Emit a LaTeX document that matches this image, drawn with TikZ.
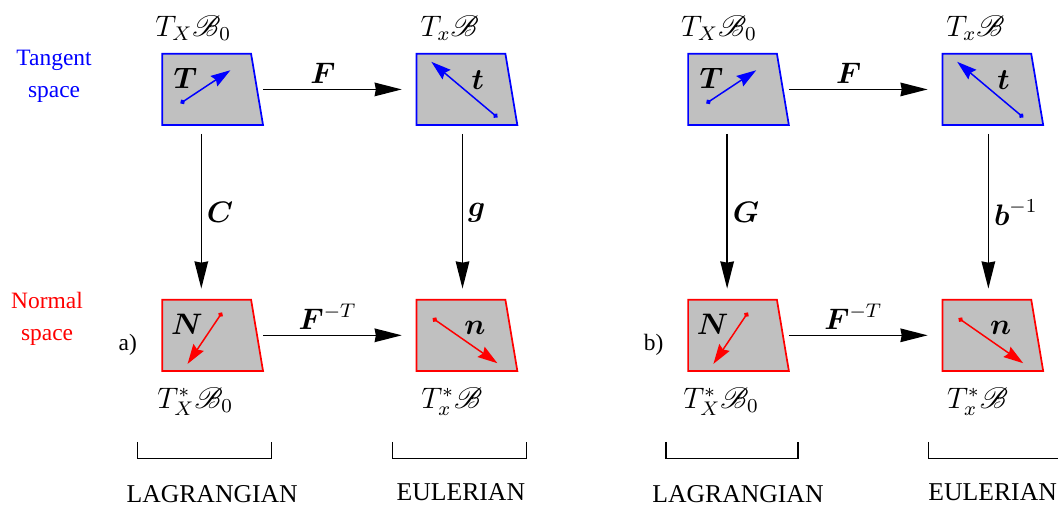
\documentclass[tikz,border=0pt]{standalone}
\usepackage{amsmath}
\usepackage{mathrsfs}
\usepackage[no-math]{fontspec}
\setmainfont{Liberation Serif}
\usetikzlibrary{positioning,arrows.meta}
\definecolor{boxgrey}{HTML}{C0C0C0}
\definecolor{tanblue}{HTML}{0000FF}
\definecolor{norred} {HTML}{FF0000}
\newcommand{\vb}[1]{\boldsymbol{#1}}
% grey quadrilateral over a named (invisible) box, right side slanting out
\newcommand{\trap}[2]{\draw[#2, fill=boxgrey, line width=0.7pt]
  (#1.north west) -- (#1.north east) -- ([xshift=0.17cm]#1.south east)
  -- (#1.south west) -- cycle;}
\tikzset{
  box/.style  ={minimum width=1.25cm, minimum height=1.0cm, inner sep=0pt,
                anchor=south west},
  vect/.style ={arrows={Circle[length=2pt]-Stealth[length=8pt,width=5pt,inset=1pt]},
                draw=tanblue, fill=tanblue, line width=0.6pt},
  vecn/.style ={arrows={Circle[length=2pt]-Stealth[length=8pt,width=5pt,inset=1pt]},
                draw=norred, fill=norred, line width=0.6pt},
  ar/.style   ={-{Stealth[length=11pt,width=5.5pt,inset=0.5pt]}, line width=0.6pt},
  brk/.style  ={line width=0.5pt},
  mlab/.style ={font=\large, inner sep=2pt},
  side/.style ={font=\rmfamily\fontsize{9.5}{13}\selectfont, align=center},
  captext/.style={font=\rmfamily\fontsize{10.4}{12}\selectfont}
}

\begin{document}
\begin{tikzpicture}
\useasboundingbox (0,0) rectangle (15.06,7.27);
\node[side, text=tanblue] (tang) at (0.77,6.18) {Tangent\\ space};
\node[side, text=norred]  (norm) at (0.67,2.73) {Normal\\ space};

\foreach \s/\dx/\mv/\mh in {a/0/\vb{C}/\vb{g}, b/7.485/\vb{G}/\vb{b}^{-1}}{
\begin{scope}[xshift=\dx cm]
  % the four spaces
  \node[box] (T\s) at (2.31,5.49) {};
  \node[box] (t\s) at (5.93,5.49) {};
  \node[box] (N\s) at (2.31,1.99) {};
  \node[box] (n\s) at (5.93,1.99) {};
  \trap{T\s}{tanblue} \trap{t\s}{tanblue}
  \trap{N\s}{norred}  \trap{n\s}{norred}
  \node[mlab] (TX\s) at (2.75,6.87) {$T_X\mathscr{B}_0$};
  \node[mlab] (Tx\s) at (6.40,6.87) {$T_x\mathscr{B}$};
  \node[mlab] (NX\s) at (2.78,1.55) {$T^*_X\mathscr{B}_0$};
  \node[mlab] (Nx\s) at (6.43,1.55) {$T^*_x\mathscr{B}$};
  \node[side] (lbl\s) at (1.82,2.36) {\s)};
  % vectors inside the boxes
  \node[mlab] at ([shift={(0.33,0.67)}]T\s.south west) {$\vb{T}$};
  \node[mlab] at ([shift={(0.87,0.64)}]t\s.south west) {$\vb{t}$};
  \node[mlab] at ([shift={(0.35,0.66)}]N\s.south west) {$\vb{N}$};
  \node[mlab] at ([shift={(0.83,0.61)}]n\s.south west) {$\vb{n}$};
  \draw[vect] ([shift={(0.26,0.31)}]T\s.south west)
           -- ([shift={(0.97,0.78)}]T\s.south west);
  \draw[vect] ([shift={(1.15,0.11)}]t\s.south west)
           -- ([shift={(0.21,0.90)}]t\s.south west);
  \draw[vecn] ([shift={(0.85,0.83)}]N\s.south west)
           -- ([shift={(0.36,0.10)}]N\s.south west);
  \draw[vecn] ([shift={(0.23,0.75)}]n\s.south west)
           -- ([shift={(1.15,0.11)}]n\s.south west);
  % maps
  \draw[ar, shorten >=6pt] ([xshift=0.17cm]T\s.east) -- (t\s.west)
    node[mlab, pos=0.39, above] {$\vb{F}$};
  \draw[ar, shorten >=6pt] ([xshift=0.17cm]N\s.east) -- (n\s.west)
    node[mlab, pos=0.42, above] {$\vb{F}^{-T}$};
  \draw[ar, shorten <=3.6pt, shorten >=4.5pt] ([xshift=15.8pt]T\s.south west)
    -- ([xshift=15.8pt]T\s.south west |- N\s.north)
    node[mlab, midway, right] {$\mv$};
  \draw[ar, shorten <=3.6pt, shorten >=4.5pt] ([xshift=18.6pt]t\s.south west)
    -- ([xshift=18.6pt]t\s.south west |- n\s.north)
    node[mlab, midway, right] {$\mh$};
  \node[captext] (lag\s) at (3.02,0.23) {LAGRANGIAN};
\end{scope}
}

\draw[brk] (1.96,0.98) -- (1.96,0.74) -- (3.86,0.74) -- (3.86,0.98);
\draw[brk] (5.59,0.98) -- (5.59,0.74) -- (7.49,0.74) -- (7.49,0.98);
\draw[brk] (9.48,0.98) -- (9.48,0.74) -- (11.36,0.74) -- (11.36,0.98);
\draw[brk] (13.22,0.98) -- (13.22,0.74) -- (15.11,0.74) -- (15.11,0.98);
\node[captext] (eula) at (6.56,0.27) {EULERIAN};
\node[captext] (eulb) at (14.13,0.27) {EULERIAN};
\end{tikzpicture}
\end{document}
